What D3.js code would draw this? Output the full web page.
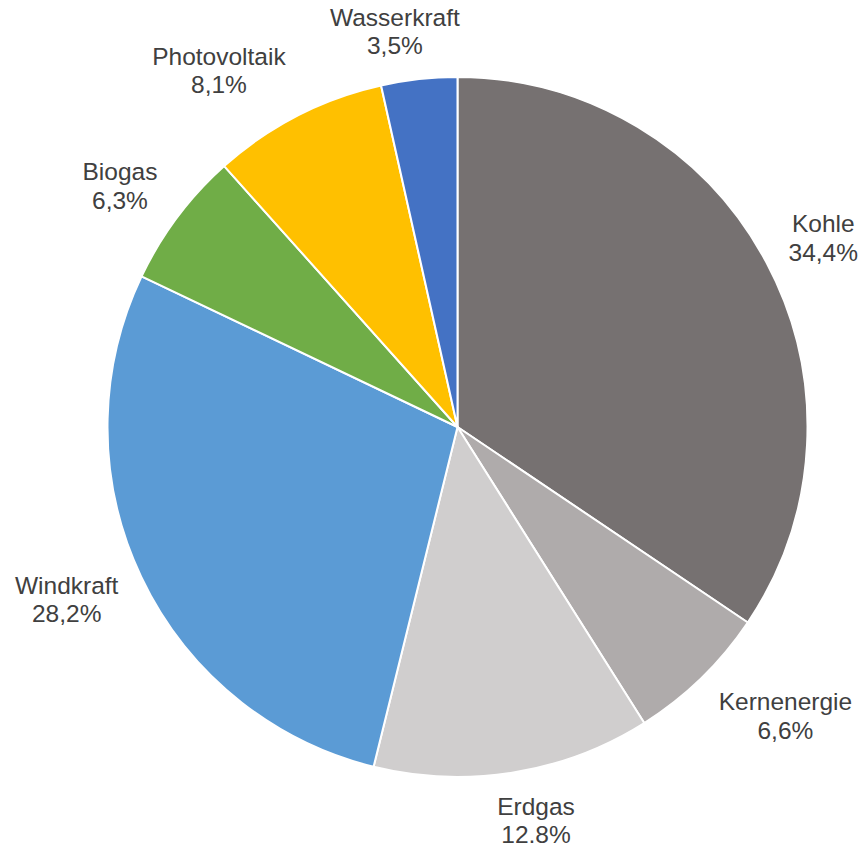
<!DOCTYPE html>
<html><head><meta charset="utf-8">
<script src="https://cdn.jsdelivr.net/npm/d3@7"></script>
<style>body{margin:0;background:#fff;} svg{display:block;}</style>
</head><body>
<svg id="chart" width="859" height="843"></svg>
<script>
const categories = ["Kohle","Kernenergie","Erdgas","Windkraft","Biogas","Photovoltaik","Wasserkraft"];
const values = [34.4, 6.6, 12.8, 28.2, 6.3, 8.1, 3.5];
const valueLabels = ["34,4%","6,6%","12,8%","28,2%","6,3%","8,1%","3,5%"];
const colors = ["#767171","#AFABAB","#D0CECE","#5B9BD5","#70AD47","#FFC000","#4472C4"];

const svg = d3.select("#chart");
const cx = 457.5, cy = 427, r = 350, gap = 25;
const fs = 24.5, ls = 28.5, capH = 0.716 * fs;
const kx = 3, ky = 1.2;
const data = categories.map((c,i)=>({cat:c, value:values[i], label:valueLabels[i], color:colors[i]}));
const pie = d3.pie().value(d=>d.value).sort(null);
const arcs = pie(data);
const arc = d3.arc().innerRadius(0).outerRadius(r);
const g = svg.append("g").attr("transform",`translate(${cx},${cy})`);
g.selectAll("path").data(arcs).join("path")
  .attr("d",arc).attr("fill",d=>d.data.color)
  .attr("stroke","#fff").attr("stroke-width",2).attr("stroke-linejoin","round");

const clamp = v => Math.max(-1, Math.min(1, v));
const labels = g.selectAll("text.lbl").data(arcs).join("text")
  .attr("class","lbl")
  .attr("font-family","Liberation Sans, Arial, sans-serif")
  .attr("font-size",fs).attr("fill","#404040").attr("text-anchor","middle");
labels.each(function(d){
  const t = d3.select(this);
  t.append("tspan").attr("x",0).attr("y",0).text(d.data.cat);
  t.append("tspan").attr("x",0).attr("y",ls).text(d.data.label);
  const w = this.getBBox().width;
  const hh = (ls + capH) / 2;
  const a = (d.startAngle+d.endAngle)/2;
  const sx = Math.sin(a), sy = -Math.cos(a);
  const hx = sx*(r+gap), hy = sy*(r+gap);
  const bx = hx + clamp(kx*sx)*w/2;
  const by = hy + clamp(ky*sy)*hh;
  t.attr("transform",`translate(${bx},${by - (ls - capH)/2})`);
});
</script>
</body></html>
